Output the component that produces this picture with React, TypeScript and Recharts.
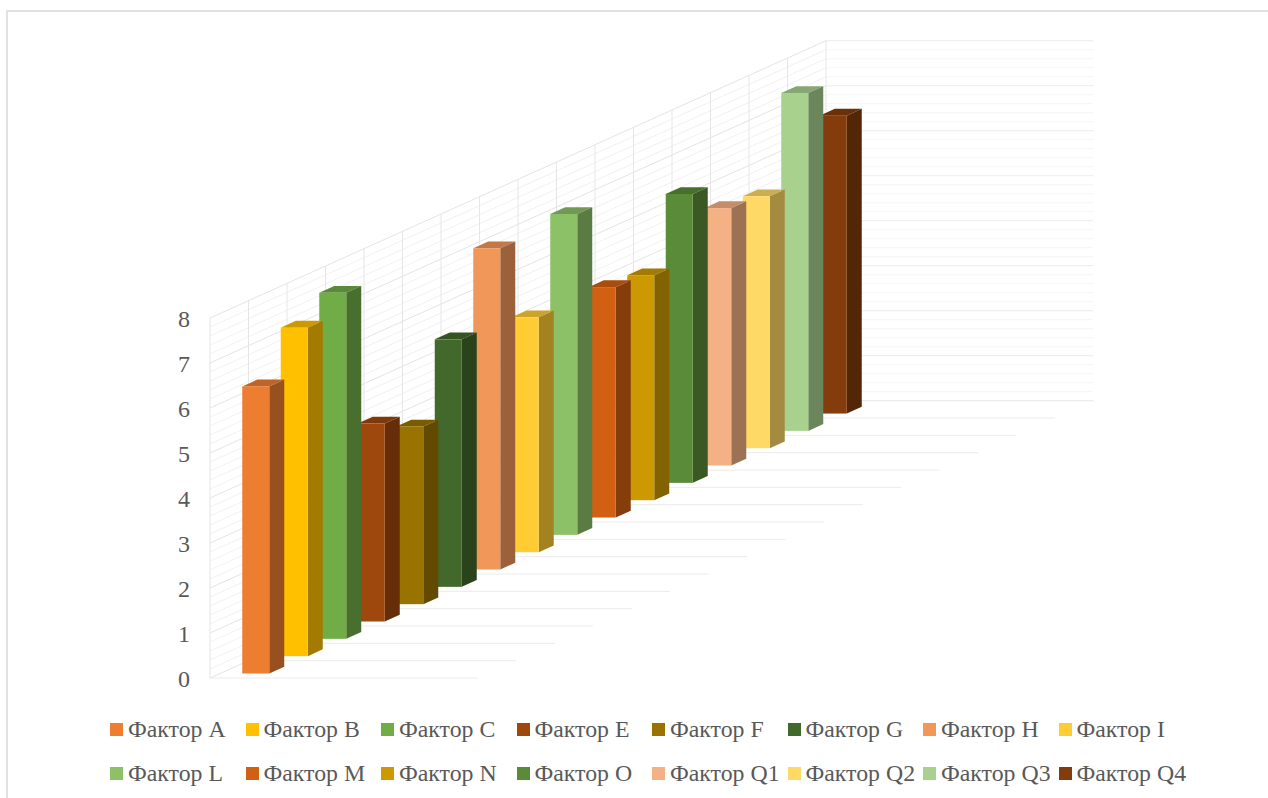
import { BarChart, Bar, XAxis, YAxis, Legend, ReferenceLine } from "recharts";

const factors = ["A", "B", "C", "E", "F", "G", "H", "I", "L", "M", "N", "O", "Q1", "Q2", "Q3", "Q4"];
const values = [6.38, 7.3, 7.69, 4.4, 3.95, 5.5, 7.14, 5.22, 7.13, 5.12, 5.0, 6.42, 5.72, 5.6, 7.51, 6.62];
const colors = [
  "#ED7D31", "#FFC000", "#70AD47", "#9E480E", "#997300", "#43682B", "#F1975A", "#FFCD33",
  "#8CC168", "#D26012", "#CC9A00", "#5A8B39", "#F4B183", "#FFD966", "#A9D18E", "#843C0C",
];
const yTicks = [0, 1, 2, 3, 4, 5, 6, 7, 8];

const WIDTH = 1268;
const HEIGHT = 798;
const TEXT = "#595959";
const FONT = "'Liberation Serif', serif";

// oblique projection: one series step back moves 38.5px right and 17.33px up
const DEPTH_DY = 17.33;
const UNIT_PX = 45;
const RISE = DEPTH_DY / UNIT_PX; // depth step expressed in value units
const DEPTH = factors.length;
const WALL_LENGTH = 6.95; // width of the back wall, in depth steps

// series further back come first so nearer bars paint over them
const tableData = factors
  .map((f, i) => ({ name: `Фактор ${f}`, value: values[i], color: colors[i], depth: i }))
  .reverse();

const gridLevels: number[] = [];
for (let i = 0; i <= 40; i++) gridLevels.push(i / 5);
const depthSteps = Array.from({ length: DEPTH + 1 }, (_, i) => i);

function shade(hex: string, k: number) {
  const n = parseInt(hex.slice(1), 16);
  const c = [(n >> 16) & 255, (n >> 8) & 255, n & 255].map((v) => Math.round(v * k));
  return `rgb(${c[0]},${c[1]},${c[2]})`;
}

function Bar3D(props: any) {
  const { x, y, width, height, payload } = props;
  const left = x + 26.25;
  const top = y - 4.5 - payload.depth * DEPTH_DY;
  const right = left + width;
  const bottom = top + height;
  const sx = 15;
  const sy = 6.8;
  return (
    <g>
      <polygon
        points={`${left},${top} ${right},${top} ${right + sx},${top - sy} ${left + sx},${top - sy}`}
        fill={shade(payload.color, 0.8)}
      />
      <polygon
        points={`${right},${top} ${right + sx},${top - sy} ${right + sx},${bottom - sy} ${right},${bottom}`}
        fill={shade(payload.color, 0.64)}
      />
      <rect x={left} y={top} width={width} height={height} fill={payload.color} />
    </g>
  );
}

function FactorLegend() {
  return (
    <div style={{ position: "relative", width: WIDTH, height: 80, fontFamily: FONT, fontSize: 23.8, color: TEXT }}>
      {factors.map((f, i) => {
        const col = i % 8;
        const row = Math.floor(i / 8);
        return (
          <div
            key={f}
            style={{ position: "absolute", left: 110 + col * 135.5, top: row * 44.5, display: "flex", alignItems: "center", height: 24, whiteSpace: "nowrap" }}
          >
            <span style={{ display: "inline-block", width: 13, height: 13, background: colors[i], marginRight: 5 }} />
            <span>Фактор {f}</span>
          </div>
        );
      })}
    </div>
  );
}

export default function App() {
  const segment = (x1: number, y1: number, x2: number, y2: number, stroke: string, key: string) => (
    <ReferenceLine
      key={key}
      xAxisId="depth"
      ifOverflow="visible"
      zIndex={-10}
      segment={[{ x: x1, y: y1 }, { x: x2, y: y2 }]}
      stroke={stroke}
      strokeWidth={1}
    />
  );

  return (
    <div style={{ position: "absolute", left: 0, top: 0, width: WIDTH, height: HEIGHT, overflow: "hidden", background: "#fff" }}>
      <div style={{ position: "absolute", left: 6, top: 10, width: WIDTH, height: HEIGHT, border: "2px solid #e2e2e2", boxSizing: "border-box" }} />
      <div style={{ position: "absolute", left: 0, top: 0 }}>
        <BarChart
          width={WIDTH}
          height={HEIGHT}
          data={tableData}
          barSize={27}
          margin={{ top: 318, right: WIDTH - 826, bottom: HEIGHT - 678, left: 150 }}
        >
          <XAxis dataKey="name" hide reversed />
          <XAxis xAxisId="depth" dataKey="depth" type="number" domain={[0, DEPTH]} allowDataOverflow hide />
          <YAxis
            width={60}
            domain={[0, 8]}
            ticks={yTicks}
            interval={0}
            axisLine={false}
            tickLine={false}
            tickMargin={14}
            tick={{ fill: TEXT, fontSize: 24, fontFamily: FONT }}
          />
          {/* side wall, back wall and floor rules */}
          {gridLevels.map((v, i) =>
            segment(0, v, DEPTH, v + DEPTH * RISE, i % 5 === 0 ? "#e4e4e4" : "#f1f1f1", `side-${i}`)
          )}
          {gridLevels.map((v, i) =>
            segment(DEPTH, v + DEPTH * RISE, DEPTH + WALL_LENGTH, v + DEPTH * RISE, i % 5 === 0 ? "#ececec" : "#f5f5f5", `back-${i}`)
          )}
          {depthSteps.map((d) => segment(d, d * RISE, d, 8 + d * RISE, "#e6e6e6", `post-${d}`))}
          {depthSteps.map((d) => segment(d, d * RISE, d + WALL_LENGTH, d * RISE, "#ebebeb", `floor-${d}`))}
          <Bar dataKey="value" shape={<Bar3D />} isAnimationActive={false} />
          <Legend
            layout="horizontal"
            verticalAlign="middle"
            align="center"
            wrapperStyle={{ left: 0, top: 717, bottom: "auto", width: WIDTH }}
            content={<FactorLegend />}
          />
        </BarChart>
      </div>
    </div>
  );
}
